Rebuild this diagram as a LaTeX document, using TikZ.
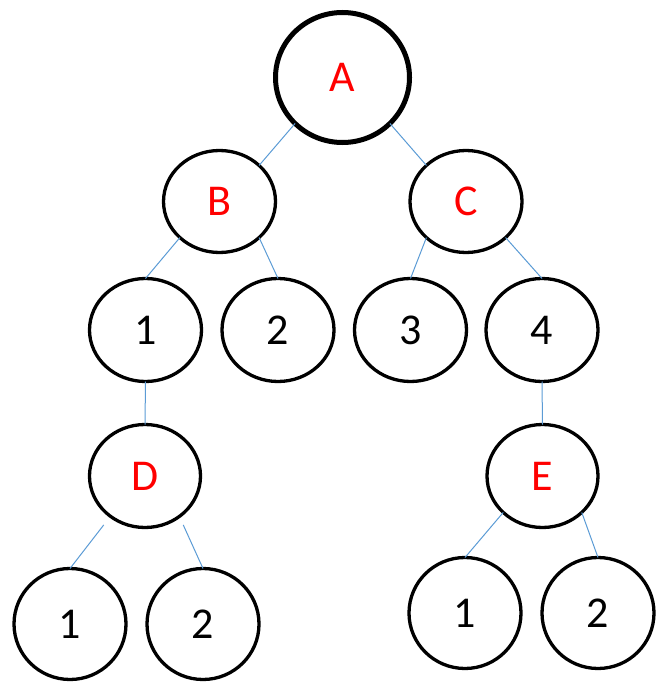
\documentclass[tikz,border=0pt]{standalone}
\usepackage{fontspec}
\setmainfont{Carlito}
\usetikzlibrary{shapes.geometric}
\definecolor{edgeblue}{HTML}{5B9BD5}
\begin{document}
\begin{tikzpicture}[x=1pt,y=-1pt,
  circ/.style={ellipse, draw=black, line width=3.3pt, inner sep=0pt, outer sep=0pt,
    font=\fontsize{44}{50}\selectfont},
  rootcirc/.style={circ, line width=5pt},
  lbl/.style={text=red},
  edge/.style={draw=edgeblue, line width=1pt}]
\useasboundingbox (0,0) rectangle (656,682);
\node[rootcirc, lbl, minimum width=134pt, minimum height=130pt] (A) at (342.5,77.5) {A};
\node[circ, lbl, minimum width=112pt, minimum height=102pt] (B) at (219.5,201.5) {B};
\node[circ, lbl, minimum width=112pt, minimum height=102pt] (C) at (466,201.5) {C};
\node[circ, minimum width=112pt, minimum height=103pt] (n1) at (145.5,330) {1};
\node[circ, minimum width=112pt, minimum height=103pt] (n2) at (278,330) {2};
\node[circ, minimum width=112pt, minimum height=103pt] (n3) at (410.5,330) {3};
\node[circ, minimum width=112pt, minimum height=103pt] (n4) at (542,330) {4};
\node[circ, lbl, minimum width=111pt, minimum height=103pt] (D) at (145,476) {D};
\node[circ, lbl, minimum width=111pt, minimum height=103pt] (E) at (542.5,476) {E};
\node[circ, minimum width=112pt, minimum height=111pt] (d1) at (70,624) {1};
\node[circ, minimum width=112pt, minimum height=111pt] (d2) at (203,624) {2};
\node[circ, minimum width=112pt, minimum height=111pt] (e1) at (465,613) {1};
\node[circ, minimum width=112pt, minimum height=111pt] (e2) at (598,613) {2};
\coordinate (Dl) at ([shift={(-2pt,-12.5pt)}]D.south west);
\coordinate (Dr) at ([shift={(-1pt,-12.5pt)}]D.south east);
\draw[edge] (A.south west) -- (B.north east);
\draw[edge] (A.south east) -- (C.north west);
\draw[edge] (B.south west) -- (n1.north);
\draw[edge] (B.south east) -- (n2.north);
\draw[edge] (C.south west) -- (n3.north);
\draw[edge] (C.south east) -- (n4.north);
\draw[edge] (n1.south) -- (D.north);
\draw[edge] (n4.south) -- (E.north);
\draw[edge] (Dl) -- (d1.north);
\draw[edge] (Dr) -- (d2.north);
\draw[edge] (E.south west) -- (e1.north);
\draw[edge] (E.south east) -- (e2.north);
\end{tikzpicture}
\end{document}
